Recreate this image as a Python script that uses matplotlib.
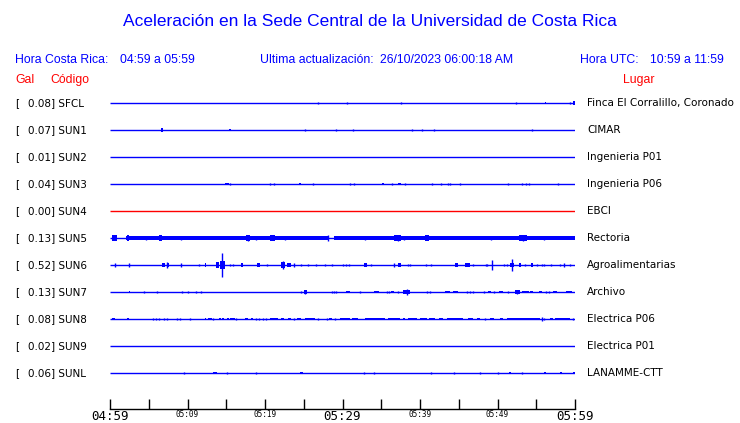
"""
plot.py
Acceleration traces, one line per station, last hour.
Output: out.png (740x423)
"""

import matplotlib
matplotlib.use("Agg")
import matplotlib.pyplot as plt

# ── Data ──────────────────────────────────────────────────────────────────────

TITLE    = "Aceleración en la Sede Central de la Universidad de Costa Rica"
HORA_CR  = "04:59 a 05:59"
HORA_UTC = "10:59 a 11:59"
UPDATED  = "26/10/2023 06:00:18 AM"

CODES  = ["SFCL", "SUN1", "SUN2", "SUN3", "SUN4", "SUN5",
          "SUN6", "SUN7", "SUN8", "SUN9", "SUNL"]
PEAKS  = [0.08, 0.07, 0.01, 0.04, 0.00, 0.13, 0.52, 0.13, 0.08, 0.02, 0.06]
PLACES = ["Finca El Corralillo, Coronado", "CIMAR", "Ingenieria P01",
          "Ingenieria P06", "EBCI", "Rectoria", "Agroalimentarias",
          "Archivo", "Electrica P06", "Electrica P01", "LANAMME-CTT"]

# minutes after 04:59
TICK_MIN    = list(range(0, 61, 5))
TICK_LABELS = ["04:59", "", "05:09", "", "05:19", "", "05:29",
               "", "05:39", "", "05:49", "", "05:59"]

# events per station: (start min, end min, amplitude Gal)
SFCL_EV = [(26.9, 26.9, 0.05), (30.6, 30.6, 0.05), (36.7, 36.7, 0.02),
           (37.6, 37.6, 0.05), (52.4, 52.4, 0.05), (56.1, 56.3, 0.03),
           (59.4, 59.4, 0.04), (59.7, 60.0, 0.08)]
SUN1_EV = [(6.6, 6.9, 0.07), (15.4, 15.6, 0.06), (20.4, 20.4, 0.02),
           (25.1, 25.1, 0.04), (29.2, 29.2, 0.04), (31.4, 31.4, 0.04),
           (34.0, 34.0, 0.02), (39.0, 39.0, 0.04), (40.3, 40.3, 0.04),
           (41.8, 41.8, 0.06), (54.4, 54.4, 0.04), (58.9, 58.9, 0.02),
           (59.3, 59.3, 0.02)]
SUN2_EV = []
SUN3_EV = [(14.9, 15.3, 0.04), (15.5, 15.5, 0.04), (20.7, 20.7, 0.04),
           (21.2, 21.2, 0.04), (23.4, 23.4, 0.02), (24.4, 24.6, 0.04),
           (26.2, 26.2, 0.04), (29.0, 29.0, 0.02), (31.0, 31.0, 0.04),
           (31.5, 31.5, 0.04), (34.6, 34.6, 0.02), (35.1, 35.4, 0.04),
           (36.4, 36.4, 0.04), (37.2, 37.6, 0.04), (38.0, 38.0, 0.04),
           (40.3, 40.3, 0.02), (41.2, 41.2, 0.02), (41.6, 41.6, 0.04),
           (42.7, 42.7, 0.04), (43.1, 43.1, 0.02), (43.6, 43.6, 0.04),
           (43.9, 43.9, 0.03), (45.2, 45.3, 0.04), (46.2, 46.2, 0.02),
           (51.0, 51.0, 0.02), (51.4, 51.4, 0.04), (53.2, 53.3, 0.04),
           (53.7, 53.7, 0.04), (54.0, 54.0, 0.04), (57.6, 57.6, 0.02),
           (57.8, 57.8, 0.04), (59.1, 59.1, 0.02), (59.8, 59.8, 0.02)]
SUN4_EV = []
SUN5_BG = [(0.2, 0.9, 0.08), (2.0, 28.3, 0.07), (28.9, 60.0, 0.07)]
SUN5_EV = [(0.2, 0.9, 0.11), (2.2, 2.5, 0.11), (4.6, 4.6, 0.10),
           (6.3, 6.7, 0.11), (9.2, 9.2, 0.10), (11.4, 11.7, 0.10),
           (12.2, 12.6, 0.10), (14.4, 14.6, 0.10), (15.1, 15.3, 0.10),
           (16.7, 17.0, 0.10), (17.5, 18.1, 0.11), (17.8, 17.8, 0.14),
           (18.8, 18.8, 0.09), (20.6, 21.3, 0.11), (22.6, 22.6, 0.10),
           (23.1, 23.5, 0.10), (24.6, 25.6, 0.10), (26.1, 26.6, 0.10),
           (28.1, 28.1, 0.12), (29.9, 30.3, 0.10), (31.2, 31.8, 0.09),
           (32.9, 32.9, 0.09), (35.9, 36.2, 0.09), (36.6, 37.6, 0.11),
           (37.2, 37.2, 0.13), (37.9, 37.9, 0.09), (40.6, 41.2, 0.11),
           (44.1, 44.5, 0.09), (46.2, 46.5, 0.09), (48.1, 48.4, 0.09),
           (49.2, 49.2, 0.09), (50.5, 51.2, 0.10), (52.8, 53.8, 0.11),
           (53.3, 53.3, 0.13), (55.1, 55.5, 0.10), (56.0, 56.0, 0.09),
           (58.1, 58.4, 0.09), (59.3, 59.8, 0.10)]
SUN6_EV = [(0.7, 0.7, 0.07), (2.4, 2.4, 0.07), (6.7, 7.1, 0.10),
           (7.3, 7.3, 0.12), (7.3, 7.6, 0.07), (9.2, 9.2, 0.10),
           (11.5, 11.5, 0.04), (12.2, 12.4, 0.08), (13.7, 14.1, 0.12),
           (14.2, 14.9, 0.18), (14.5, 14.5, 0.52), (15.5, 15.5, 0.06),
           (15.9, 15.9, 0.06), (16.9, 17.2, 0.07), (19.0, 19.4, 0.07),
           (20.2, 20.2, 0.06), (22.0, 22.6, 0.12), (22.3, 22.3, 0.16),
           (22.8, 23.3, 0.07), (23.8, 23.8, 0.07), (24.7, 24.7, 0.06),
           (25.6, 25.6, 0.03), (26.6, 26.6, 0.06), (27.7, 27.7, 0.05),
           (28.7, 28.7, 0.05), (30.1, 30.1, 0.05), (30.4, 30.4, 0.05),
           (30.9, 30.9, 0.05), (32.8, 33.2, 0.07), (33.7, 33.7, 0.06),
           (36.7, 36.7, 0.10), (37.1, 37.6, 0.07), (38.4, 38.4, 0.06),
           (38.7, 38.7, 0.06), (40.8, 40.8, 0.03), (41.4, 41.4, 0.03),
           (44.5, 44.9, 0.07), (45.8, 46.4, 0.07), (46.8, 46.8, 0.06),
           (48.5, 48.5, 0.06), (48.7, 48.7, 0.06), (49.3, 49.3, 0.21),
           (50.9, 50.9, 0.06), (51.2, 51.2, 0.06), (51.6, 52.1, 0.08),
           (51.9, 51.9, 0.27), (52.8, 53.0, 0.07), (53.5, 53.5, 0.06),
           (54.3, 54.6, 0.07), (55.1, 55.1, 0.06), (55.7, 55.7, 0.06),
           (56.0, 56.0, 0.06), (56.9, 56.9, 0.05), (58.0, 58.0, 0.04),
           (58.6, 58.6, 0.08), (59.4, 59.4, 0.04)]
SUN7_EV = [(2.4, 2.6, 0.06), (4.4, 4.4, 0.05), (6.0, 6.0, 0.05),
           (6.7, 6.7, 0.02), (9.3, 9.3, 0.03), (10.0, 10.0, 0.05),
           (11.1, 11.1, 0.05), (11.8, 11.8, 0.05), (13.5, 13.5, 0.02),
           (22.0, 22.1, 0.06), (24.6, 24.6, 0.06), (25.0, 25.4, 0.07),
           (25.2, 25.2, 0.10), (26.9, 26.9, 0.02), (28.6, 28.6, 0.05),
           (28.9, 28.9, 0.05), (29.1, 29.1, 0.05), (30.5, 31.0, 0.06),
           (32.2, 32.2, 0.05), (34.1, 34.7, 0.06), (35.7, 35.7, 0.05),
           (36.0, 36.0, 0.05), (36.3, 36.6, 0.05), (37.1, 37.1, 0.05),
           (37.8, 38.7, 0.07), (38.3, 38.3, 0.13), (39.6, 39.6, 0.02),
           (40.9, 40.9, 0.05), (41.3, 41.3, 0.05), (43.2, 43.9, 0.05),
           (44.3, 44.9, 0.05), (46.0, 46.0, 0.05), (46.5, 46.5, 0.05),
           (46.9, 46.9, 0.05), (48.2, 48.2, 0.05), (48.8, 49.2, 0.06),
           (49.5, 49.5, 0.05), (50.2, 50.7, 0.06), (51.4, 51.4, 0.05),
           (52.2, 52.9, 0.07), (52.5, 52.5, 0.10), (53.1, 54.0, 0.06),
           (54.2, 54.6, 0.06), (55.4, 55.7, 0.06), (56.3, 56.3, 0.05),
           (56.7, 56.7, 0.05), (57.2, 57.7, 0.06), (58.8, 59.6, 0.06)]
SUN8_EV = [(0.3, 0.6, 0.06), (2.2, 2.5, 0.06), (5.5, 5.5, 0.05),
           (5.9, 5.9, 0.05), (6.3, 6.3, 0.05), (7.0, 7.0, 0.05),
           (7.4, 7.4, 0.05), (8.7, 8.7, 0.05), (9.0, 9.0, 0.03),
           (10.3, 10.3, 0.05), (12.2, 12.4, 0.06), (12.7, 13.1, 0.05),
           (13.3, 13.3, 0.05), (14.1, 14.3, 0.06), (14.5, 14.7, 0.06),
           (15.1, 15.3, 0.05), (15.5, 16.1, 0.06), (16.3, 16.3, 0.05),
           (17.4, 17.8, 0.06), (18.2, 18.5, 0.06), (18.8, 18.8, 0.05),
           (19.2, 19.2, 0.05), (19.7, 19.7, 0.05), (20.1, 20.1, 0.05),
           (20.6, 21.1, 0.06), (21.2, 21.7, 0.06), (22.1, 22.4, 0.06),
           (23.0, 23.4, 0.06), (23.8, 23.8, 0.05), (24.1, 24.7, 0.06),
           (25.2, 26.5, 0.06), (26.8, 26.8, 0.05), (28.0, 28.0, 0.05),
           (28.3, 28.6, 0.06), (29.0, 29.0, 0.05), (29.7, 30.3, 0.06),
           (30.1, 31.0, 0.05), (31.2, 32.0, 0.05), (32.9, 35.5, 0.05),
           (35.9, 37.4, 0.05), (37.8, 38.1, 0.05), (38.5, 39.6, 0.05),
           (40.0, 40.9, 0.05), (41.2, 41.9, 0.05), (42.4, 43.0, 0.05),
           (43.5, 45.6, 0.05), (46.2, 46.9, 0.05), (47.3, 47.7, 0.05),
           (48.4, 48.4, 0.05), (49.0, 49.5, 0.05), (50.3, 50.7, 0.05),
           (51.2, 55.5, 0.05), (55.7, 55.7, 0.08), (56.0, 56.0, 0.05),
           (56.8, 57.2, 0.05), (57.4, 59.4, 0.05), (59.8, 59.8, 0.05)]
SUN9_EV = [(55.7, 55.7, 0.02)]
SUNL_EV = [(9.5, 9.5, 0.05), (13.3, 13.8, 0.05), (15.1, 15.1, 0.05),
           (15.5, 15.5, 0.02), (18.8, 18.8, 0.05), (24.5, 24.9, 0.05),
           (32.8, 32.8, 0.05), (34.0, 34.0, 0.05), (35.7, 35.7, 0.02),
           (41.4, 41.4, 0.05), (44.0, 44.0, 0.02), (44.4, 44.4, 0.03),
           (47.8, 47.8, 0.05), (50.1, 50.1, 0.05), (51.5, 51.8, 0.05),
           (53.2, 53.3, 0.05), (56.0, 56.2, 0.05), (58.1, 58.3, 0.05),
           (59.7, 60.0, 0.06)]

EVENTS = [SFCL_EV, SUN1_EV, SUN2_EV, SUN3_EV, SUN4_EV, SUN5_EV,
          SUN6_EV, SUN7_EV, SUN8_EV, SUN9_EV, SUNL_EV]
BACKGROUND = {"SUN5": SUN5_BG}

# ── Style ─────────────────────────────────────────────────────────────────────

W, H      = 740, 423
BLUE      = "#0000ff"
RED       = "#ff0000"
ROW0_Y    = 103          # px of first trace
ROW_STEP  = 27           # px between traces
PX_PER_G  = 23.0         # px per Gal (half amplitude)
TRACE_X0  = 110
TRACE_X1  = 575
AXIS_Y    = 409

HEAD_FONT = "Liberation Sans"
ROW_FONT  = "DejaVu Sans"


def fx(px):
    return px / W


def fy(py):
    return 1 - py / H


def main():
    fig = plt.figure(figsize=(W / 100, H / 100), dpi=100, facecolor="white")

    # ── Header ────────────────────────────────────────────────
    fig.text(fx(370), fy(22), TITLE, ha="center", va="center",
             color=BLUE, fontsize=12.5, family=HEAD_FONT)
    hdr = dict(va="center", color=BLUE, fontsize=8.8, family=HEAD_FONT)
    fig.text(fx(15), fy(60), "Hora Costa Rica:", **hdr)
    fig.text(fx(120.5), fy(60), HORA_CR, **hdr)
    fig.text(fx(260), fy(60), "Ultima actualización:", **hdr)
    fig.text(fx(380), fy(60), UPDATED, **hdr)
    fig.text(fx(580.5), fy(60), "Hora UTC:", **hdr)
    fig.text(fx(650.5), fy(60), HORA_UTC, **hdr)

    red = dict(va="center", color=RED, fontsize=8.8, family=HEAD_FONT)
    fig.text(fx(15), fy(80), "Gal", **red)
    fig.text(fx(50), fy(80), "Código", **red)
    fig.text(fx(623), fy(80), "Lugar", **red)

    # ── Traces ────────────────────────────────────────────────
    ax = fig.add_axes([fx(TRACE_X0), 0, (TRACE_X1 - TRACE_X0) / W, 1])
    ax.set_xlim(0, 60)
    ax.set_ylim(H, 0)
    ax.axis("off")

    for i, code in enumerate(CODES):
        y = ROW0_Y + ROW_STEP * i
        colour = RED if code == "SUN4" else BLUE

        ax.hlines(y, 0, 60, color=colour, lw=1.0)

        for t0, t1, a in BACKGROUND.get(code, []):
            h = a * PX_PER_G
            ax.bar(t0, 2 * h, width=t1 - t0, bottom=y - h, align="edge",
                   color=colour, lw=0)

        for t0, t1, a in EVENTS[i]:
            h = a * PX_PER_G
            if t1 - t0 < 0.1:
                ax.vlines(t0, y - h, y + h, color=colour, lw=1.0)
            else:
                ax.bar(t0, 2 * h, width=t1 - t0, bottom=y - h, align="edge",
                       color=colour, lw=0)

        row = dict(va="center", color="black", fontsize=7.5, family=ROW_FONT)
        fig.text(fx(15), fy(y), "[", **row)
        fig.text(fx(27.5), fy(y), f"{PEAKS[i]:.2f}] {code}", **row)
        fig.text(fx(587), fy(y), PLACES[i], **row)

    # ── Time axis ─────────────────────────────────────────────
    tax = fig.add_axes([fx(TRACE_X0), fy(AXIS_Y), (TRACE_X1 - TRACE_X0) / W,
                        0.0001])
    tax.set_xlim(0, 60)
    tax.set_yticks([])
    for side in ("top", "left", "right"):
        tax.spines[side].set_visible(False)
    tax.spines["bottom"].set_linewidth(1.0)
    tax.set_xticks(TICK_MIN)
    tax.set_xticklabels(TICK_LABELS, family="DejaVu Sans Mono")
    tax.tick_params(axis="x", direction="in", length=7, width=1.0,
                    pad=1.0, colors="black")
    for k, lab in enumerate(tax.get_xticklabels()):
        lab.set_fontsize(9 if k % 6 == 0 else 5.5)

    fig.savefig("out.png", dpi=100, facecolor="white")
    plt.close(fig)


if __name__ == "__main__":
    main()
